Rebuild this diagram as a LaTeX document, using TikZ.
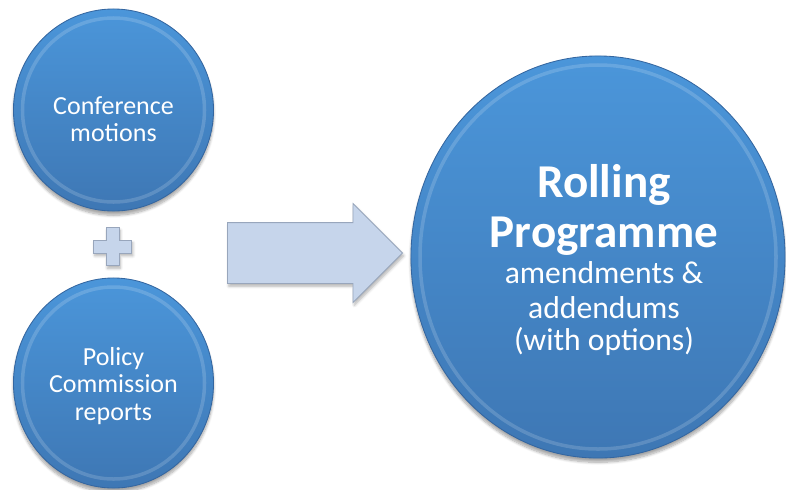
\documentclass[tikz,border=0pt]{standalone}
\usepackage{fontspec}
\setmainfont{Carlito}
\usepackage{tikz}
\usetikzlibrary{shapes.geometric}
\usetikzlibrary{shapes.arrows}
\usetikzlibrary{shadows.blur}

\definecolor{ballTop}{HTML}{4B96DA}
\definecolor{ballBottom}{HTML}{3E77B4}
\definecolor{ballRim}{HTML}{3466A0}
\definecolor{arrowFill}{HTML}{C6D5EB}
\definecolor{arrowLine}{HTML}{98A6BC}

\begin{document}
\begin{tikzpicture}[x=0.025cm,y=-0.025cm,
		ball/.style = {ellipse, inner sep=0pt, top color=ballTop, bottom color=ballBottom, draw=ballRim, line width=0.6pt,
			blur shadow={shadow xshift=0pt, shadow yshift=-3pt, shadow blur steps=8, shadow opacity=35}},
		rim/.style = {draw=white, opacity=0.16, line width=2.5pt},
		balltext/.style = {align=center, text=white, inner sep=0pt},
		head/.style = {text=white, inner sep=0pt, anchor=base, font=\fontsize{33.5}{35}\selectfont\bfseries},
		sub/.style = {text=white, inner sep=0pt, anchor=base, font=\fontsize{22.5}{23}\selectfont},
		light/.style = {fill=arrowFill, draw=arrowLine, line width=0.6pt,
			blur shadow={shadow xshift=1pt, shadow yshift=-2pt, shadow blur steps=6, shadow opacity=30}}
			]
		\useasboundingbox (0,0) rectangle (786,489);

		\node [ball, minimum width=5cm, minimum height=5.05cm] (Conference) at (113.5,110) {};
		\node [ball, minimum width=5cm, minimum height=5.25cm] (Policy) at (113.5,383) {};
		\node [ball, minimum width=9.35cm, minimum height=10.05cm] (Rolling) at (598,257) {};

		\draw [rim] (Conference.center) ellipse [x radius=91, y radius=92];
		\draw [rim] (Policy.center) ellipse [x radius=91, y radius=96];
		\draw [rim] (Rolling.center) ellipse [x radius=178, y radius=192];

		\node [balltext, font=\fontsize{18.5}{19}\selectfont] (ConferenceText) at (113.5,119)
			{Conference\\motions};
		\node [balltext, font=\fontsize{18.5}{19.5}\selectfont] (PolicyText) at (113.5,386)
			{Policy\\Commission\\reports};

		\node [head] (RollingA) at (604,197) {Rolling};
		\node [head] (RollingB) at (604,247) {Programme};
		\node [sub] (RollingC) at (604,283) {amendments \&};
		\node [sub] (RollingD) at (604,318) {addendums};
		\node [sub] (RollingE) at (604,350) {(with options)};

		\coordinate (PlusC) at (112.5,246.5);
		\draw [light] (PlusC) ++(-6.5,-19) -- ++(13,0) -- ++(0,12.5) -- ++(12.5,0) -- ++(0,13)
			-- ++(-12.5,0) -- ++(0,12.5) -- ++(-13,0) -- ++(0,-12.5) -- ++(-12.5,0)
			-- ++(0,-13) -- ++(12.5,0) -- cycle;

		\node [light, single arrow, inner xsep=0pt, inner ysep=0.75cm, shape border rotate=0,
			minimum width=2.45cm, minimum height=4.375cm, single arrow head extend=0.475cm,
			anchor=tail] (Arrow) at (227,253) {};

	\end{tikzpicture}
\end{document}
